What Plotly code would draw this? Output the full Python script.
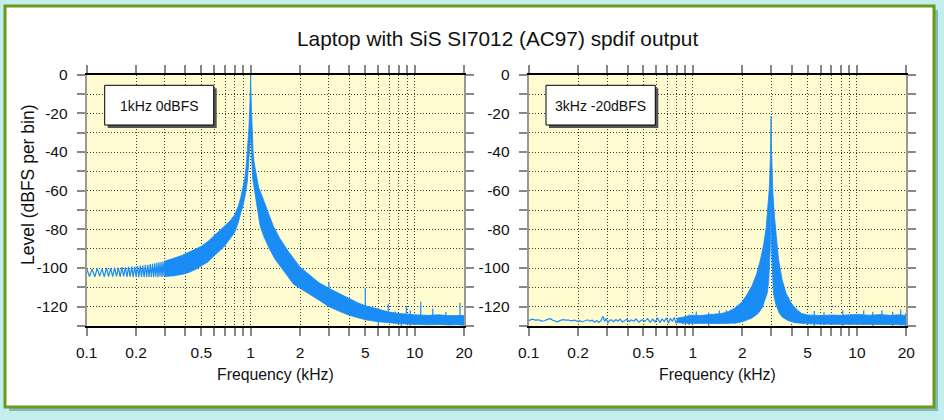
import plotly.graph_objects as go

# ---------------- DATA ----------------
TITLE = "Laptop with SiS SI7012 (AC97) spdif output"
Y_TITLE = "Level (dBFS per bin)"
X_TITLE = "Frequency (kHz)"
LABEL_LEFT = "1kHz 0dBFS"
LABEL_RIGHT = "3kHz -20dBFS"

X_TICKS = [0.1, 0.2, 0.3, 0.4, 0.5, 0.6, 0.7, 0.8, 0.9,
           1, 2, 3, 4, 5, 6, 7, 8, 9, 10, 20]
X_TICK_TEXT = ["0.1", "0.2", "", "", "0.5", "", "", "", "",
               "1", "2", "", "", "5", "", "", "", "", "10", "20"]
Y_TICKS = [0, -10, -20, -30, -40, -50, -60, -70, -80, -90, -100, -110, -120, -130]
Y_TICK_TEXT = ["0", "", "-20", "", "-40", "", "-60", "", "-80", "", "-100", "", "-120", ""]

# Left panel: 1 kHz 0 dBFS - low frequency comb (individual bins visible)
L_zig_f = [0.100, 0.104, 0.108, 0.112, 0.116, 0.120, 0.124, 0.128, 0.132, 0.136,
           0.140, 0.144, 0.148, 0.152, 0.156, 0.160, 0.164, 0.168, 0.172, 0.176,
           0.180, 0.184, 0.188, 0.192, 0.196, 0.200, 0.204, 0.208, 0.212, 0.216,
           0.220, 0.224, 0.228, 0.232, 0.236, 0.240, 0.244, 0.248, 0.252, 0.256,
           0.260, 0.264, 0.268, 0.272, 0.276, 0.280, 0.284, 0.288, 0.292, 0.296,
           0.300, 0.304, 0.308, 0.312, 0.316, 0.320, 0.324, 0.328, 0.332, 0.336, 0.340]
L_zig_db = [-100.4, -104.4, -100.5, -104.5, -100.2, -104.3, -100.3, -104.6, -100.0, -104.4,
            -100.1, -104.5, -99.8, -104.3, -99.9, -104.6, -99.6, -104.4, -99.7, -104.6,
            -99.4, -104.5, -99.3, -104.7, -99.2, -104.5, -99.0, -104.7, -98.8, -104.6,
            -98.7, -104.8, -98.4, -104.6, -98.3, -104.7, -98.0, -104.6, -97.8, -104.8,
            -97.6, -104.5, -97.3, -104.7, -97.1, -104.4, -96.9, -104.6, -96.6, -104.3,
            -96.3, -104.5, -96.1, -104.2, -95.8, -104.4, -95.6, -104.1, -95.3, -104.3, -95.1]

# Left panel: upper / lower envelope of the dense leakage band
L_up_f = [0.30, 0.34, 0.38, 0.42, 0.46, 0.50, 0.55, 0.60, 0.65, 0.70, 0.75, 0.80, 0.84, 0.87,
          0.90, 0.92, 0.94, 0.96, 0.975, 0.99, 0.997, 1.0, 1.003, 1.01, 1.02, 1.035, 1.05,
          1.08, 1.12, 1.17, 1.25, 1.37, 1.5, 1.7, 2.0, 2.3, 2.6, 3.0, 3.5, 4.0, 4.5, 5.0,
          6.0, 7.0, 8.0, 9.0, 10, 12, 14, 16, 18, 20]
L_up_db = [-96.5, -95.0, -93.5, -91.8, -90.3, -88.8, -86.2, -83.2, -80.9, -78.4, -75.6, -72.4,
           -68.0, -63.5, -58.5, -54.0, -47.0, -38.0, -28.0, -14.0, -5.0, -0.5, -6.0, -16.0,
           -29.0, -40.0, -45.5, -52.0, -58.5, -62.5, -69.0, -78.0, -84.5, -91.5, -99.5,
           -104.0, -107.5, -110.5, -113.5, -116.0, -118.0, -119.5, -121.5, -122.8, -123.5,
           -124.0, -124.2, -124.5, -124.2, -124.6, -124.4, -124.6]
L_lo_f = [0.30, 0.34, 0.38, 0.42, 0.46, 0.50, 0.55, 0.60, 0.65, 0.70, 0.75, 0.80, 0.84, 0.87,
          0.90, 0.93, 0.955, 0.975, 0.99, 0.997, 1.0, 1.003, 1.01, 1.015, 1.03, 1.063, 1.1,
          1.14, 1.2, 1.3, 1.41, 1.6, 1.83, 2.0, 2.3, 2.6, 3.0, 3.5, 4.0, 4.5, 5.0, 6.0, 7.0,
          8.0, 9.0, 10, 12, 14, 16, 18, 20]
L_lo_db = [-104.3, -104.0, -103.3, -102.3, -100.8, -99.0, -96.8, -93.5, -91.0, -88.2, -85.0,
           -81.5, -76.5, -71.5, -67.5, -61.5, -55.0, -46.0, -36.0, -28.0, -30.0, -28.0, -38.0,
           -44.0, -54.0, -61.5, -70.0, -78.0, -83.5, -90.0, -95.5, -102.0, -108.5, -110.5,
           -113.5, -116.5, -120.0, -122.5, -124.5, -125.8, -126.8, -127.8, -128.3, -128.8,
           -129.0, -129.3, -129.4, -129.2, -129.5, -129.3, -129.6]
# Left panel: narrow spikes (harmonics / noise) - frequency, top, bottom
L_spk_f = [3.0, 5.0, 6.0, 6.9, 7.6, 8.3, 8.9, 9.4, 10.9, 12.9, 15.5, 18.9]
L_spk_hi = [-107.6, -110.5, -120.5, -118.6, -122.5, -124.0, -119.7, -122.0, -117.4, -121.0, -122.8, -118.0]
L_spk_lo = [-116.0, -122.0, -130.5, -125.0, -127.0, -130.5, -126.0, -130.5, -126.0, -127.0, -128.0, -127.0]

# Right panel: 3 kHz -20 dBFS - noise floor line below 1 kHz
R_line_f = [0.100, 0.105, 0.110, 0.115, 0.120, 0.125, 0.130, 0.136, 0.140, 0.145, 0.150, 0.156,
            0.162, 0.168, 0.175, 0.182, 0.190, 0.198, 0.205, 0.212, 0.220, 0.228, 0.236, 0.244,
            0.252, 0.260, 0.268, 0.276, 0.284, 0.290, 0.296, 0.304, 0.312, 0.320, 0.330, 0.340,
            0.350, 0.360, 0.372, 0.384, 0.396, 0.41, 0.42, 0.44, 0.45, 0.47, 0.49, 0.51, 0.53,
            0.55, 0.57, 0.59, 0.61, 0.63, 0.65, 0.67, 0.69, 0.71, 0.73, 0.75, 0.77, 0.79, 0.81,
            0.83, 0.85, 0.87, 0.89, 0.91, 0.93, 0.95, 0.97, 0.99, 1.0]
R_line_db = [-127.2, -126.5, -127.0, -126.8, -127.5, -127.3, -126.6, -126.2, -127.0, -127.6,
             -127.8, -127.1, -126.7, -127.0, -126.9, -127.3, -127.0, -127.6, -127.2, -127.9,
             -127.3, -126.8, -127.5, -127.0, -128.0, -127.2, -128.2, -127.1, -125.0, -127.6,
             -126.2, -128.3, -127.0, -126.8, -127.8, -126.7, -127.5, -126.4, -127.9, -127.0,
             -126.5, -127.8, -126.9, -127.4, -126.3, -128.0, -126.8, -127.6, -126.2, -128.1,
             -126.5, -127.9, -126.0, -128.2, -126.4, -127.7, -125.8, -128.4, -126.2, -127.5,
             -125.6, -128.6, -126.3, -127.9, -125.7, -128.8, -126.0, -128.3, -124.8, -129.0,
             -125.5, -128.5, -124.5]
# Right panel: upper / lower envelope of the dense band
R_up_f = [0.80, 0.90, 1.00, 1.10, 1.20, 1.35, 1.50, 1.65, 1.80, 2.00, 2.15, 2.30, 2.45, 2.57,
          2.70, 2.80, 2.88, 2.93, 2.96, 2.985, 3.00, 3.015, 3.04, 3.08, 3.15, 3.22, 3.33, 3.50,
          3.70, 4.00, 4.30, 4.60, 5.00, 6.00, 7.00, 8.00, 10.0, 12.0, 14.0, 16.0, 18.0, 20.0]
R_up_db = [-126.0, -125.2, -124.4, -124.6, -124.2, -124.0, -123.5, -122.5, -120.8, -117.5,
           -113.5, -109.0, -103.0, -96.5, -88.0, -79.0, -68.0, -58.0, -47.0, -36.0, -21.4,
           -38.0, -50.0, -62.0, -74.0, -84.0, -95.5, -106.0, -113.0, -118.5, -121.5, -123.5,
           -124.3, -124.6, -124.3, -124.5, -124.0, -124.4, -124.1, -124.5, -124.2, -124.6]
R_lo_f = [0.80, 0.90, 1.00, 1.30, 1.60, 1.90, 2.10, 2.30, 2.50, 2.65, 2.75, 2.84, 2.90, 2.94,
          2.965, 2.985, 2.997, 3.003, 3.015, 3.035, 3.06, 3.10, 3.20, 3.35, 3.50, 3.80, 4.20,
          5.00, 7.00, 10.0, 14.0, 20.0]
R_lo_db = [-128.2, -128.6, -128.9, -128.8, -128.7, -128.3, -127.2, -125.8, -123.5, -120.5,
           -116.5, -113.0, -107.0, -99.0, -90.0, -75.0, -60.0, -60.0, -78.0, -95.0, -104.0,
           -113.0, -118.5, -123.0, -125.3, -127.2, -128.3, -128.9, -129.1, -129.3, -129.2, -129.4]
R_spk_f = [0.95, 1.05, 1.25, 1.45, 1.6, 1.8, 5.5, 6.3, 8.2, 11.0, 12.5, 14.2, 16.5, 18.5, 19.8]
R_spk_hi = [-124.0, -122.5, -123.0, -122.0, -121.8, -122.5, -122.2, -122.8, -122.0, -122.0,
            -122.6, -121.8, -122.6, -121.5, -123.5]
R_spk_lo = [-129.5, -129.0, -130.5, -129.0, -128.5, -129.0, -130.5, -129.5, -130.5, -129.5,
            -130.5, -129.5, -130.5, -129.8, -131.0]

# ---------------- STYLE ----------------
BLUE = "#1a8cf5"
PLOT_BG = "#fffcd2"
PAGE_BG = "#c4eeee"
FONT = "Liberation Sans, Arial, Helvetica, sans-serif"
W, H = 944, 420


def px(x):
    return x / W


def py(y):
    return 1 - y / H


fig = go.Figure()


def add_panel(xa, ya, band_up_f, band_up_db, band_lo_f, band_lo_db, line_f, line_db,
              spk_f, spk_hi, spk_lo):
    poly_x = list(band_up_f) + list(band_lo_f)[::-1]
    poly_y = list(band_up_db) + list(band_lo_db)[::-1]
    fig.add_trace(go.Scatter(x=poly_x, y=poly_y, mode="lines", fill="toself",
                             fillcolor=BLUE, line=dict(color=BLUE, width=0.8),
                             xaxis=xa, yaxis=ya, hoverinfo="skip"))
    fig.add_trace(go.Scatter(x=line_f, y=line_db, mode="lines",
                             line=dict(color=BLUE, width=1.2),
                             xaxis=xa, yaxis=ya, hoverinfo="skip"))
    sx, sy = [], []
    for f, hi, lo in zip(spk_f, spk_hi, spk_lo):
        sx += [f, f, None]
        sy += [lo, hi, None]
    fig.add_trace(go.Scatter(x=sx, y=sy, mode="lines", line=dict(color=BLUE, width=1.2),
                             xaxis=xa, yaxis=ya, hoverinfo="skip"))


add_panel("x", "y", L_up_f, L_up_db, L_lo_f, L_lo_db, L_zig_f, L_zig_db,
          L_spk_f, L_spk_hi, L_spk_lo)
add_panel("x2", "y2", R_up_f, R_up_db, R_lo_f, R_lo_db, R_line_f, R_line_db,
          R_spk_f, R_spk_hi, R_spk_lo)

GRID = dict(showgrid=True, gridcolor="#3a3a3a", griddash="1px,2px", gridwidth=1)
xaxis_common = dict(type="log", range=[-1, 1.30103], tickmode="array", tickvals=X_TICKS,
                    ticktext=X_TICK_TEXT, ticks="outside", ticklen=8, tickwidth=1.5,
                    tickcolor="#888888", showline=True, linecolor="#000000", linewidth=1.5,
                    mirror="allticks", zeroline=False,
                    tickfont=dict(family=FONT, size=15.5, color="#111"),
                    ticklabelstandoff=4, automargin=False, **GRID)
yaxis_common = dict(range=[-130, 0], tickmode="array", tickvals=Y_TICKS, ticktext=Y_TICK_TEXT,
                    ticks="outside", ticklen=8, tickwidth=1.5, tickcolor="#888888",
                    showline=True, linecolor="#999999", linewidth=2, mirror="allticks",
                    zeroline=False, tickfont=dict(family=FONT, size=15.5, color="#111"),
                    ticklabelstandoff=6, automargin=False, **GRID)

ydom = [py(326), py(74.7)]
fig.update_layout(
    width=W, height=H, autosize=False,
    margin=dict(l=0, r=0, t=0, b=0, pad=0, autoexpand=False),
    paper_bgcolor=PAGE_BG, plot_bgcolor=PLOT_BG, showlegend=False,
    font=dict(family=FONT, color="#111"),
    xaxis=dict(domain=[px(86.7), px(464)], anchor="y", **xaxis_common),
    yaxis=dict(domain=ydom, anchor="x", **yaxis_common),
    xaxis2=dict(domain=[px(528.7), px(906.3)], anchor="y2", **xaxis_common),
    yaxis2=dict(domain=ydom, anchor="x2", **yaxis_common),
)

shapes = [
    # drop shadow and white card with green frame
    dict(type="rect", xref="paper", yref="paper", x0=px(9), x1=px(938), y0=py(411), y1=py(10),
         fillcolor="#86b9bb", line=dict(width=0), layer="below"),
    dict(type="rect", xref="paper", yref="paper", x0=px(5), x1=px(934), y0=py(407), y1=py(6),
         fillcolor="#ffffff", line=dict(color="#6a9a1c", width=3), layer="below"),
    # plot backgrounds (re-drawn above the card)
    dict(type="rect", xref="x domain", yref="y domain", x0=0, x1=1, y0=0, y1=1,
         fillcolor=PLOT_BG, line=dict(width=0), layer="below"),
    dict(type="rect", xref="x2 domain", yref="y2 domain", x0=0, x1=1, y0=0, y1=1,
         fillcolor=PLOT_BG, line=dict(width=0), layer="below"),
]
# label boxes with shadows
for (bx0, bx1) in [(104.7, 213.7), (546.0, 655.3)]:
    shapes.append(dict(type="rect", xref="paper", yref="paper", x0=px(bx0 + 3), x1=px(bx1 + 3),
                       y0=py(128), y1=py(88.3), fillcolor="#555555", line=dict(width=0),
                       layer="above"))
    shapes.append(dict(type="rect", xref="paper", yref="paper", x0=px(bx0), x1=px(bx1),
                       y0=py(125), y1=py(85.3), fillcolor="#ffffff",
                       line=dict(color="#000000", width=1), layer="above"))

annotations = [
    dict(text=TITLE, x=px(497.5), y=py(38), xref="paper", yref="paper", showarrow=False,
         font=dict(family=FONT, size=20.8, color="#111"), xanchor="center", yanchor="middle"),
    dict(text=Y_TITLE, x=px(28), y=py(185), xref="paper", yref="paper", showarrow=False,
         textangle=-90, font=dict(family=FONT, size=17.5, color="#111"),
         xanchor="center", yanchor="middle"),
    dict(text=X_TITLE, x=px(275.5), y=py(374), xref="paper", yref="paper", showarrow=False,
         font=dict(family=FONT, size=15.8, color="#111"), xanchor="center", yanchor="middle"),
    dict(text=X_TITLE, x=px(717.5), y=py(374), xref="paper", yref="paper", showarrow=False,
         font=dict(family=FONT, size=15.8, color="#111"), xanchor="center", yanchor="middle"),
    dict(text=LABEL_LEFT, x=px(159.2), y=py(105.5), xref="paper", yref="paper", showarrow=False,
         font=dict(family=FONT, size=14, color="#111"), xanchor="center", yanchor="middle"),
    dict(text=LABEL_RIGHT, x=px(600.6), y=py(105.5), xref="paper", yref="paper", showarrow=False,
         font=dict(family=FONT, size=14, color="#111"), xanchor="center", yanchor="middle"),
]

fig.update_layout(shapes=shapes, annotations=annotations)
fig.write_html(
    "out.html",
    config={"responsive": False, "displayModeBar": False},
    post_script="document.body.style.margin='0px';document.body.style.padding='0px';"
                "document.body.style.overflow='hidden';"
                "document.body.style.background='" + PAGE_BG + "';",
)
